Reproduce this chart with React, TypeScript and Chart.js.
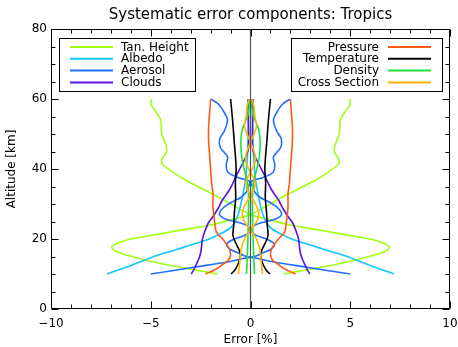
import React, { useEffect, useRef } from 'react';
import { Chart, registerables } from 'chart.js';

Chart.register(...registerables);

const TITLE = 'Systematic error components: Tropics';
const X_TITLE = 'Error [%]';
const Y_TITLE = 'Altitude [km]';
const X_TICKS = [-10, -5, 0, 5, 10];
const Y_TICKS = [0, 20, 40, 60, 80];

// Tan. Height
const altTan = [60, 58.5, 56, 54, 50, 47, 45, 42.5, 41, 37, 32, 27, 25.5, 24, 22.5, 21, 19.7, 18.7, 17.8, 16.8, 15.9, 14.5, 13, 11.5, 10];
const tanHeight = [4.95, 5.0, 4.7, 4.5, 4.45, 4.25, 4.2, 4.45, 4.35, 3.3, 1.6, 0, -0.95, -2.0, -3.5, -5.0, -6.2, -6.7, -6.95, -6.85, -6.5, -5.6, -4.5, -3.1, -1.65];

// Albedo
const altAlb = [60, 50, 44, 40, 37, 33, 30, 27, 24.5, 23, 21.5, 19.7, 18.3, 17, 15, 14, 12, 10];
const albedo = [0.1, 0.12, 0.15, 0.2, 0.25, 0.37, 0.48, 0.62, 0.82, 1.05, 1.5, 2.2, 3.0, 3.7, 4.85, 5.3, 6.2, 7.2];

// Aerosol
const altAer = [60, 58.5, 56, 54, 51, 48.5, 46, 43.5, 41, 39, 37.5, 36.5, 35, 33.5, 32, 30.5, 29, 27.5, 26.5, 25.5, 24.5, 23.5, 22, 21, 20, 18.5, 17, 16, 15, 14.5, 13.5, 12, 11, 10];
const aerosol = [2.0, 1.6, 1.3, 1.15, 1.3, 1.55, 1.5, 1.15, 1.22, 1.12, 0.6, 0.05, -0.1, -0.2, -0.45, -0.95, -1.35, -1.55, -1.5, -1.15, -0.45, -0.1, 0.05, 0.3, 0.8, 1.2, 1.0, 0.6, 0.2, -0.3, -1.1, -2.75, -3.85, -5.0];

// Clouds
const altCld = [60, 52, 46, 44, 41, 38, 36, 34, 31, 29, 26.5, 24.5, 22, 19.7, 18, 16, 14.5, 13, 11.5, 10];
const clouds = [0.12, 0.1, 0.1, 0.2, 0.45, 0.72, 0.88, 1.06, 1.42, 1.6, 1.87, 2.12, 2.3, 2.42, 2.45, 2.5, 2.58, 2.7, 2.82, 2.97];

// Pressure
const altPrs = [60, 56, 52, 48, 44, 40, 36, 33, 29, 25, 22.5, 21.5, 20, 18.5, 17, 15.5, 14, 12.5, 11.5, 10];
const pressure = [2.0, 2.05, 2.1, 2.1, 2.05, 2.0, 1.95, 1.88, 1.88, 1.8, 1.74, 1.65, 1.4, 1.2, 1.05, 1.0, 1.1, 1.45, 1.7, 2.25];

// Temperature
const altTmp = [60, 56, 52, 48, 44, 40, 36, 32, 28, 24, 21, 19, 17, 15.5, 14, 12.5, 11, 10];
const temperature = [1.0, 0.93, 0.87, 0.82, 0.76, 0.72, 0.76, 0.74, 0.8, 0.84, 0.88, 0.75, 0.58, 0.5, 0.55, 0.65, 0.8, 0.97];

// Density
const altDen = [60, 57, 55, 53, 51, 49, 46.5, 44, 41.5, 39, 37, 35, 32, 28, 24, 20, 15, 10];
const density = [0.05, 0.08, 0.15, 0.3, 0.42, 0.47, 0.48, 0.45, 0.38, 0.27, 0.18, 0.12, 0.1, 0.1, 0.11, 0.13, 0.16, 0.2];

// Cross Section
const altCrs = [60, 58, 55, 52.5, 50, 48, 45.5, 42.5, 39.5, 37, 35, 33, 31, 28, 25.5, 22.6, 20, 17, 14, 10];
const crossSection = [0.06, 0.17, 0.22, 0.3, 0.18, 0.02, -0.15, -0.25, -0.05, 0.2, 0.22, 0.05, -0.15, -0.4, -0.35, 0, 0.3, 0.47, 0.53, 0.6];

// zero line
const ZERO_X = [0, 0];
const ZERO_Y = [0, 80];

const LEFT_LEGEND = ['Tan. Height', 'Albedo', 'Aerosol', 'Clouds'];
const RIGHT_LEGEND = ['Pressure', 'Temperature', 'Density', 'Cross Section'];

const COLORS: Record<string, string> = {
  'Tan. Height': '#a0ff10',
  'Albedo': '#10c8ff',
  'Aerosol': '#2070ff',
  'Clouds': '#5a14e0',
  'Pressure': '#ff5a14',
  'Temperature': '#000000',
  'Density': '#20e040',
  'Cross Section': '#ffb400',
};

const COMPONENTS = [
  { label: 'Tan. Height', alt: altTan, val: tanHeight },
  { label: 'Albedo', alt: altAlb, val: albedo },
  { label: 'Aerosol', alt: altAer, val: aerosol },
  { label: 'Clouds', alt: altCld, val: clouds },
  { label: 'Pressure', alt: altPrs, val: pressure },
  { label: 'Temperature', alt: altTmp, val: temperature },
  { label: 'Density', alt: altDen, val: density },
  { label: 'Cross Section', alt: altCrs, val: crossSection },
];

const FONT = '"DejaVu Sans", sans-serif';

const decorPlugin = {
  id: 'decor',
  afterDatasetsDraw(chart: any) {
    const { ctx, chartArea } = chart;
    const { left, right, top, bottom } = chartArea;
    const xs = chart.scales.x;
    const ys = chart.scales.y;
    ctx.save();
    ctx.strokeStyle = '#000';
    ctx.lineWidth = 1;
    const L = Math.round(left) + 0.5;
    const R = Math.round(right) - 0.5;
    const T = Math.round(top) + 0.5;
    const B = Math.round(bottom) - 0.5;
    ctx.beginPath();
    ctx.rect(L, T, R - L, B - T);
    ctx.stroke();
    // ticks
    ctx.beginPath();
    for (let v = -10; v <= 10; v += 1) {
      const len = v % 5 === 0 ? 7 : 4;
      const p = Math.round(xs.getPixelForValue(v)) + 0.5;
      ctx.moveTo(p, B); ctx.lineTo(p, B - len);
      ctx.moveTo(p, T); ctx.lineTo(p, T + len);
    }
    for (let v = 0; v <= 80; v += 5) {
      const len = v % 20 === 0 ? 7 : 4;
      const p = Math.round(ys.getPixelForValue(v)) + 0.5;
      ctx.moveTo(L, p); ctx.lineTo(L + len, p);
      ctx.moveTo(R, p); ctx.lineTo(R - len, p);
    }
    ctx.stroke();

    // legends
    ctx.font = '12px ' + FONT;
    ctx.textBaseline = 'middle';
    ctx.fillStyle = '#000';
    ctx.lineWidth = 1;
    ctx.strokeStyle = '#000';
    const bt = Math.round(top) + 9.5;
    const bh = 53;
    const lb = Math.round(left) + 8.5;
    ctx.strokeRect(lb, bt, 136, bh);
    const rb = Math.round(right) - 158.5;
    ctx.strokeRect(rb, bt, 151, bh);
    LEFT_LEGEND.forEach((lab, i) => {
      const yy = top + 18 + i * 11.8;
      ctx.strokeStyle = COLORS[lab];
      ctx.lineWidth = 2;
      ctx.beginPath();
      ctx.moveTo(left + 19, yy); ctx.lineTo(left + 62, yy);
      ctx.stroke();
      ctx.textAlign = 'left';
      ctx.fillText(lab, left + 70, yy + 0.5);
    });
    RIGHT_LEGEND.forEach((lab, i) => {
      const yy = top + 18 + i * 11.8;
      ctx.strokeStyle = COLORS[lab];
      ctx.lineWidth = 2;
      ctx.beginPath();
      ctx.moveTo(right - 62, yy); ctx.lineTo(right - 19, yy);
      ctx.stroke();
      ctx.textAlign = 'right';
      ctx.fillText(lab, right - 71, yy + 0.5);
    });
    ctx.restore();
  },
};

export default function App() {
  const ref = useRef<HTMLCanvasElement>(null);
  useEffect(() => {
    if (!ref.current) return;
    const datasets: any[] = [];
    datasets.push({
      label: 'zero',
      data: ZERO_X.map((x, i) => ({ x, y: ZERO_Y[i] })),
      borderColor: '#505050',
      borderWidth: 1.2,
      pointRadius: 0,
      tension: 0,
      order: 0,
    });
    COMPONENTS.forEach((c, k) => {
      const order = COMPONENTS.length - k;
      datasets.push({
        label: c.label,
        data: c.alt.map((a, i) => ({ x: c.val[i], y: a })),
        borderColor: COLORS[c.label],
        borderWidth: 1.6,
        pointRadius: 0,
        tension: 0.3,
        order,
      });
      datasets.push({
        label: c.label + ' (-)',
        data: c.alt.map((a, i) => ({ x: -c.val[i], y: a })),
        borderColor: COLORS[c.label],
        borderWidth: 1.6,
        pointRadius: 0,
        tension: 0.3,
        order,
      });
    });
    const chart = new Chart(ref.current, {
      type: 'line',
      data: { datasets },
      plugins: [decorPlugin],
      options: {
        animation: false,
        responsive: true,
        maintainAspectRatio: false,
        devicePixelRatio: 1,
        layout: { padding: { left: 0, right: 8, top: 0, bottom: 0 } },
        plugins: {
          legend: { display: false },
          tooltip: { enabled: false },
          title: {
            display: true,
            fullSize: false,
            text: TITLE,
            color: '#000',
            font: { family: FONT, size: 15, weight: 'normal' },
            padding: { top: 6, bottom: 5 },
          },
        },
        scales: {
          x: {
            type: 'linear',
            min: -10,
            max: 10,
            afterBuildTicks: (s: any) => { s.ticks = X_TICKS.map((v) => ({ value: v })); },
            afterFit: (s: any) => { s.height = 38; s.paddingLeft = 0; s.paddingRight = 0; },
            ticks: {
              autoSkip: false,
              maxRotation: 0,
              padding: 8,
              color: '#000',
              font: { family: FONT, size: 12 },
              callback: (v: any) => (v < 0 ? '\u2212' + Math.abs(v) : String(v)),
            },
            grid: { display: false, drawTicks: false },
            border: { display: false },
            title: {
              display: true,
              text: X_TITLE,
              color: '#000',
              font: { family: FONT, size: 12 },
              padding: { top: 0, bottom: 0 },
            },
          },
          y: {
            type: 'linear',
            min: 0,
            max: 80,
            afterBuildTicks: (s: any) => { s.ticks = Y_TICKS.map((v) => ({ value: v })); },
            afterFit: (s: any) => { s.width = 51; },
            ticks: {
              autoSkip: false,
              padding: 4,
              color: '#000',
              font: { family: FONT, size: 12 },
            },
            grid: { display: false, drawTicks: false },
            border: { display: false },
            title: {
              display: true,
              text: Y_TITLE,
              color: '#000',
              font: { family: FONT, size: 12 },
              padding: { top: 5, bottom: 0 },
            },
          },
        },
      } as any,
    });
    return () => chart.destroy();
  }, []);
  return (
    <div style={{ position: 'absolute', left: 0, top: 0, width: 458, height: 347, background: '#fff' }}>
      <canvas ref={ref} />
    </div>
  );
}
